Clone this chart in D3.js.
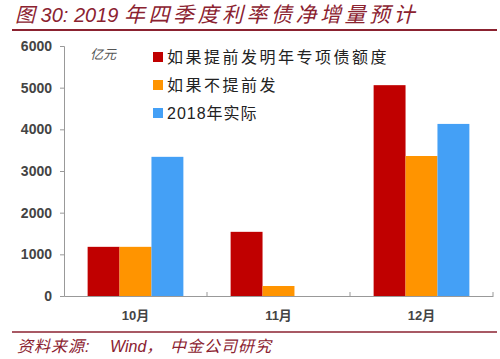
<!DOCTYPE html>
<html><head><meta charset="utf-8">
<script src="https://cdn.jsdelivr.net/npm/d3@7"></script>
<style>body{margin:0;background:#fff}svg{display:block}</style>
</head><body>
<svg id="c" width="500" height="359"></svg>
<script>
const categories = ["10月", "11月", "12月"];
const seriesNames = ["如果提前发明年专项债额度", "如果不提前发", "2018年实际"];
const seriesEarly = [1180, 1540, 5060];
const seriesNoEarly = [1180, 240, 3360];
const series2018 = [3340, null, 4130];
const yTicks = [0, 1000, 2000, 3000, 4000, 5000, 6000];
const colors = ["#C00000", "#FF9400", "#44A0F6"];

(function () {
const svg = d3.select("#c");
const cjk = "'Noto Sans CJK SC', sans-serif";
const mLeft = 64, mRight = 493, mTop = 46, mBottom = 296;

// title
const t = svg.append("text").attr("x", 15).attr("y", 22)
  .attr("font-family", "'Liberation Sans', " + cjk).attr("font-style", "italic")
  .attr("font-size", 20).attr("fill", "#8B2230").attr("xml:space", "preserve");
t.append("tspan").text("图 30: 2019 ");
t.append("tspan").attr("font-size", 21).attr("letter-spacing", 3.5).text("年四季度利率债净增量预计");
svg.append("line").attr("x1", 12).attr("x2", 497).attr("y1", 30).attr("y2", 30)
  .attr("stroke", "#8B2230").attr("stroke-width", 2);

const x = d3.scaleBand().domain(categories).range([mLeft, mRight]);
const inner = d3.scaleBand().domain(d3.range(3)).range([0, x.bandwidth()]).paddingOuter(0.74).paddingInner(0);
const y = d3.scaleLinear().domain([0, 6000]).range([mBottom, mTop]);

const data = [seriesEarly, seriesNoEarly, series2018];

// y axis
const ya = svg.append("g").attr("transform", `translate(${mLeft},0)`)
  .call(d3.axisLeft(y).tickValues(yTicks).tickSize(4).tickPadding(8).tickFormat(d3.format("d")));
ya.select(".domain").attr("stroke", "#999");
ya.selectAll(".tick line").attr("stroke", "#999");
ya.selectAll("text").attr("font-family", "'Liberation Sans', Arial, sans-serif")
  .attr("font-size", 14).attr("font-weight", "bold").attr("fill", "#444");

// bars
data.forEach((arr, si) => {
  svg.append("g").selectAll("rect").data(categories.map((c, i) => ({c, v: arr[i]})).filter(d => d.v != null))
    .join("rect")
    .attr("x", d => x(d.c) + inner(si))
    .attr("width", inner.bandwidth())
    .attr("y", d => y(d.v))
    .attr("height", d => y(0) - y(d.v))
    .attr("fill", colors[si]);
});

// x axis
const xa = svg.append("g").attr("transform", `translate(0,${mBottom})`)
  .call(d3.axisBottom(x).tickSize(0).tickPadding(15));
xa.select(".domain").attr("stroke", "#999");
xa.selectAll("text").attr("font-family", "'Liberation Sans', " + cjk)
  .attr("font-size", 13).attr("font-weight", "bold").attr("fill", "#444");
const seps = categories.map(c => x(c) + x.bandwidth());
svg.append("g").selectAll("line").data(seps).join("line")
  .attr("x1", d => d).attr("x2", d => d).attr("y1", mBottom).attr("y2", mBottom - 4)
  .attr("stroke", "#999");

// unit
svg.append("text").attr("x", 90).attr("y", 59).attr("font-family", cjk)
  .attr("font-style", "italic").attr("font-size", 13).attr("fill", "#555").text("亿元");

// legend
const lg = svg.append("g");
seriesNames.forEach((n, i) => {
  const yy = 57 + i * 28;
  lg.append("rect").attr("x", 153).attr("y", yy - 5).attr("width", 10).attr("height", 10).attr("fill", colors[i]);
  lg.append("text").attr("x", 167).attr("y", yy).attr("dy", "0.36em")
    .attr("font-family", "'Liberation Sans', " + cjk).attr("font-size", 16)
    .attr("letter-spacing", i === 2 ? 1 : 2.5).attr("fill", "#222").text(n);
});

// footer
svg.append("line").attr("x1", 12).attr("x2", 497).attr("y1", 332).attr("y2", 332)
  .attr("stroke", "#8B2230").attr("stroke-width", 1.5);
const f = svg.append("text").attr("x", 17).attr("y", 352)
  .attr("font-family", "'Liberation Sans', " + cjk).attr("font-style", "italic")
  .attr("font-size", 16).attr("fill", "#8B2230").attr("xml:space", "preserve");
f.append("tspan").attr("letter-spacing", 1).text("资料来源:");
f.append("tspan").attr("x", 110).text("Wind，");
f.append("tspan").attr("x", 170).attr("letter-spacing", 1).text("中金公司研究");
})();
</script>
</body></html>
